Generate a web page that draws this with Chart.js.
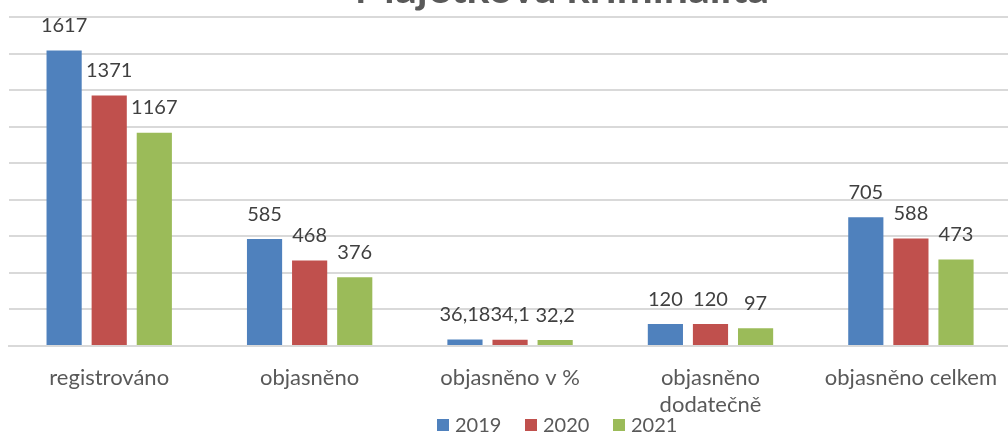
<!DOCTYPE html>
<html lang="cs">
<head>
    <meta charset="UTF-8">
    <title>Majetková kriminalita</title>
    <script src="https://cdn.jsdelivr.net/npm/chart.js@4.4.1/dist/chart.umd.min.js"></script>
    <style>
        html, body { margin: 0; padding: 0; background: #fff; overflow: hidden; }
    </style>
</head>
<body>
    <canvas id="crimeChart" width="1016" height="436"></canvas>

    <script>
        // data
        const categories = ['registrováno', 'objasněno', 'objasněno v %', ['objasněno', 'dodatečně'], 'objasněno celkem'];
        const years = ['2019', '2020', '2021'];
        const values2019 = [1617, 585, 36.18, 120, 705];
        const values2020 = [1371, 468, 34.1, 120, 588];
        const values2021 = [1167, 376, 32.2, 97, 473];
        const yMax = 1800;
        const yStep = 200;

        const colors = ['#4F81BD', '#C0504D', '#9BBB59'];
        const fontFamily = 'Lato, "Noto Sans", sans-serif';

        // value labels above each bar (czech decimal comma)
        const valueLabels = {
            id: 'valueLabels',
            afterDatasetsDraw(chart) {
                const ctx = chart.ctx;
                ctx.save();
                ctx.font = '20px ' + fontFamily;
                ctx.fillStyle = '#404040';
                ctx.textAlign = 'center';
                ctx.textBaseline = 'middle';
                chart.data.datasets.forEach((ds, i) => {
                    chart.getDatasetMeta(i).data.forEach((bar, j) => {
                        const txt = String(ds.data[j]).replace('.', ',');
                        ctx.fillText(txt, bar.x, bar.y - 25);
                    });
                });
                ctx.restore();
            }
        };

        // title sits mostly above the visible area, like in the screenshot
        const cutTitle = {
            id: 'cutTitle',
            afterDraw(chart) {
                const ctx = chart.ctx;
                ctx.save();
                ctx.font = 'bold 43px ' + fontFamily;
                ctx.fillStyle = '#595959';
                ctx.textAlign = 'center';
                ctx.textBaseline = 'alphabetic';
                ctx.fillText('Majetková kriminalita', 562, 3);
                ctx.restore();
            }
        };

        // legend squeezed under the labels, as Excel placed it
        const bottomLegend = {
            id: 'bottomLegend',
            afterDraw(chart) {
                const ctx = chart.ctx;
                ctx.save();
                ctx.font = '20px ' + fontFamily;
                ctx.textAlign = 'left';
                ctx.textBaseline = 'middle';
                let x = 437;
                chart.data.datasets.forEach(ds => {
                    ctx.fillStyle = ds.backgroundColor;
                    ctx.fillRect(x, 419, 12, 12);
                    ctx.fillStyle = '#595959';
                    ctx.fillText(ds.label, x + 18, 426);
                    x += 88;
                });
                ctx.restore();
            }
        };

        const ctx = document.getElementById('crimeChart').getContext('2d');
        const crimeChart = new Chart(ctx, {
            type: 'bar',
            data: {
                labels: categories,
                datasets: years.map((y, i) => ({
                    label: y,
                    data: [values2019, values2020, values2021][i],
                    backgroundColor: colors[i],
                    borderWidth: 0,
                    categoryPercentage: 0.675,
                    barPercentage: 0.78
                }))
            },
            options: {
                responsive: false,
                animation: false,
                layout: { padding: { left: 9, right: 0, top: 17, bottom: 0 } },
                plugins: {
                    title: { display: false },
                    tooltip: { enabled: false },
                    legend: { display: false }
                },
                scales: {
                    x: {
                        grid: { display: false, drawTicks: false },
                        border: { color: '#d9d9d9', width: 2 },
                        afterFit(scale) { scale.height = 90; },
                        ticks: {
                            color: '#595959',
                            font: { family: fontFamily, size: 22, lineHeight: 1.2 },
                            padding: 19,
                            maxRotation: 0
                        }
                    },
                    y: {
                        min: 0,
                        max: yMax,
                        border: { display: false },
                        grid: { color: '#d9d9d9', lineWidth: 2, drawTicks: false },
                        ticks: { display: false, stepSize: yStep }
                    }
                }
            },
            plugins: [valueLabels, cutTitle, bottomLegend]
        });
    </script>
</body>
</html>
